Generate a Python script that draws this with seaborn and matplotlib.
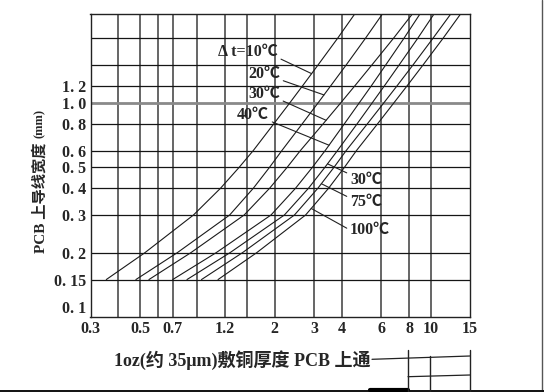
import numpy as np
import pandas as pd
import matplotlib
matplotlib.use("Agg")
import matplotlib.pyplot as plt
from matplotlib.lines import Line2D
import seaborn as sns

# 导线宽度 (mm) -- the y levels each curve was read at
widths = [0.15, 0.2, 0.3, 0.4, 0.5, 0.6, 0.8, 1.0, 1.2, 1.5, 2.0, 2.6]

# 电流 (A) at the widths above
cur_10 = [0.353, 0.525, 0.867, 1.146, 1.387, 1.607, 1.986, 2.339, 2.667, 3.126, 3.828, 4.571]
cur_20 = [0.479, 0.733, 1.259, 1.607, 1.897, 2.158, 2.663, 3.131, 3.565, 4.178, 5.10, 6.081]
cur_30 = [0.548, 0.843, 1.462, 1.901, 2.275, 2.612, 3.304, 3.954, 4.571, 5.445, 6.808, 8.279]
cur_40 = [0.700, 1.094, 1.928, 2.483, 2.951, 3.373, 4.111, 4.786, 5.420, 6.281, 7.586, 8.954]
cur_50 = [0.811, 1.262, 2.213, 2.838, 3.357, 3.828, 4.688, 5.470, 6.202, 7.211, 8.744, 10.35]
cur_75 = [0.942, 1.435, 2.455, 3.126, 3.687, 4.188, 5.212, 6.166, 7.063, 8.318, 10.23, 12.30]
cur_100 = [1.117, 1.662, 2.754, 3.491, 4.107, 4.656, 5.790, 6.839, 7.834, 9.226, 11.35, 13.61]

curve_names = ["10", "20", "30", "40", "50", "75", "100"]
curve_data = [cur_10, cur_20, cur_30, cur_40, cur_50, cur_75, cur_100]

x_ticks = [0.3, 0.5, 0.7, 1.2, 2, 3, 4, 6, 8, 10, 15]
x_ticklabels = ["0.3", "0.5", "0.7", "1.2", "2", "3", "4", "6", "8", "10", "15"]
x_grid = [0.4, 0.5, 0.6, 0.7, 0.9, 1.2, 1.5, 2, 3, 4, 6, 8, 10]
y_ticks = [0.1, 0.15, 0.2, 0.3, 0.4, 0.5, 0.6, 0.8, 1.0, 1.2]
y_ticklabels = ["0. 1", "0. 15", "0. 2", "0. 3", "0. 4", "0. 5", "0. 6", "0. 8", "1. 0", "1. 2"]
y_grid = [0.15, 0.2, 0.3, 0.4, 0.5, 0.6, 0.8, 1.0, 1.2, 1.5, 2.0]

# 标注: text, curve index, width where the leader hits, text pos (px from top-left), leader anchor
labels = [
    ("Δ t=10℃", 0, 1.37, (218, 52), (1.0, 0.15)),
    ("20℃", 1, 1.09, (248, 74), (1.0, 0.15)),
    ("30℃", 2, 0.83, (248, 94), (1.0, 0.15)),
    ("40℃", 3, 0.635, (237, 115), (1.0, 0.15)),
    ("30℃", 4, 0.52, (350, 180), (0.0, 0.85)),
    ("75℃", 5, 0.42, (350, 202), (0.0, 0.75)),
    ("100℃", 6, 0.322, (350, 230), (0.0, 0.5)),
]

rows = []
for name, cur in zip(curve_names, curve_data):
    for w, c in zip(widths, cur):
        rows.append({"curve": name, "current": c, "width": w})
df = pd.DataFrame(rows)

sns.set_style("white")
plt.rcParams["font.family"] = ["Liberation Serif", "Noto Sans CJK SC", "DejaVu Sans"]

W, H = 544, 392
fig = plt.figure(figsize=(W / 100, H / 100), dpi=100)
ax = fig.add_axes([90.5 / W, 1 - 317.3 / H, (470 - 90.5) / W, (317.3 - 14) / H])

sns.lineplot(data=df, x="current", y="width", hue="curve", palette=["#1a1a1a"] * 7,
             estimator=None, sort=False, legend=False, lw=0.8, ax=ax)

ax.set_xscale("log")
ax.set_yscale("log")
ax.set_xlim(0.3, 15)
ax.set_ylim(0.1, 2.6)

for gx in x_grid:
    ax.axvline(gx, color="#3c3c3c", lw=1.1, zorder=0)
for gy in y_grid:
    if gy == 1.0:
        ax.axhline(gy, color="#8a8a8a", lw=2.0, zorder=0)
    else:
        ax.axhline(gy, color="#151515", lw=0.9, zorder=0)

ax.xaxis.set_minor_locator(plt.NullLocator())
ax.yaxis.set_minor_locator(plt.NullLocator())
ax.set_xticks(x_ticks)
ax.set_xticklabels(x_ticklabels)
ax.set_yticks(y_ticks)
ax.set_yticklabels(y_ticklabels)
ax.tick_params(length=0, pad=3, labelsize=11.5)
for t in ax.get_xticklabels() + ax.get_yticklabels():
    t.set_fontweight("bold")
# 0.1 sits a little above the bottom line, clear of the 0.3 below it
ax.get_yticklabels()[0].set_va("bottom")
ax.set_xlabel("")
ax.set_ylabel("")
for sp in ax.spines.values():
    sp.set_color("#222222")
    sp.set_linewidth(1.0)

for text, idx, w_at, (px, py), rel in labels:
    cur = curve_data[idx]
    x_at = 10 ** np.interp(np.log10(w_at), np.log10(widths), np.log10(cur))
    ax.annotate(text, xy=(x_at, w_at), xycoords="data",
                xytext=(px, H - py), textcoords="figure pixels",
                ha="left", va="center", fontsize=11.5, fontweight="bold",
                arrowprops=dict(arrowstyle="-", color="#222222", lw=0.8,
                                shrinkA=0, shrinkB=0, relpos=rel))

# 坐标轴标题
fig.text(40 / W, 1 - 198 / H, "PCB 上导线宽度", rotation=90, ha="center", va="center",
         fontsize=11, fontweight="bold")
fig.text(40 / W, 1 - 123 / H, "(mm)", rotation=90, ha="center", va="center",
         fontsize=9, fontweight="bold")
fig.text(114 / W, 1 - 360 / H, "1oz(约 35μm)敷铜厚度 PCB 上通", ha="left", va="center",
         fontsize=13, fontweight="bold")

# 扫描残留的表格线
def seg(x0, y0, x1, y1, lw=1.0, color="#222222"):
    fig.add_artist(Line2D([x0 / W, x1 / W], [1 - y0 / H, 1 - y1 / H],
                          transform=fig.transFigure, color=color, lw=lw))

seg(542, 0, 542, H, lw=1.0, color="#555555")
seg(0, 390.5, 544, 390.5, lw=1.4, color="#111111")
seg(370, 390, 408, 390, lw=3.0, color="#000000")
seg(372, 359.3, 470, 356, lw=0.9)
seg(408, 376.7, 470, 375, lw=0.9)
seg(408.3, 350, 408.3, H, lw=1.0)
seg(430, 356, 430, H, lw=1.0)
seg(470, 350, 470, H, lw=1.0)

fig.savefig("out.png", dpi=100)
